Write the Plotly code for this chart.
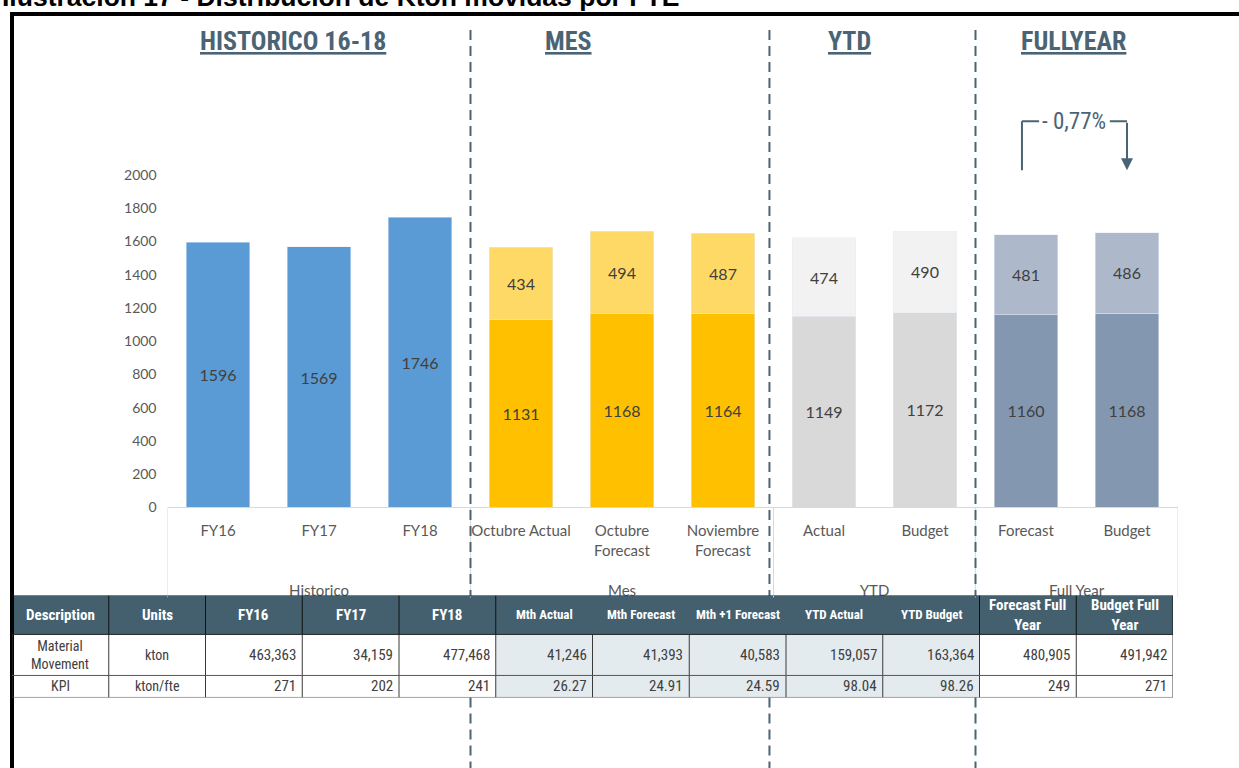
"""Kton movidas por FTE: stacked bars by period group plus the KPI table below."""

import plotly.graph_objects as go

# ---- data -----------------------------------------------------------------
categories = ["FY16", "FY17", "FY18", "Octubre Actual", "Octubre<br>Forecast",
              "Noviembre<br>Forecast", "Actual", "Budget", "Forecast", "Budget"]
base_vals = [1596, 1569, 1746, 1131, 1168, 1164, 1149, 1172, 1160, 1168]
top_vals = [None, None, None, 434, 494, 487, 474, 490, 481, 486]

groups = ["Historico", "Mes", "YTD", "Full Year"]
group_pos = [1, 4, 6.5, 8.5]
group_edges = [-0.5, 2.5, 5.5, 7.5, 9.5]
headers = ["HISTORICO 16-18", "MES", "YTD", "FULLYEAR"]
header_pos = [0.74, 3.47, 6.25, 8.47]
fy_delta = "- 0,77%"

table_cols = ["Description", "Units", "FY16", "FY17", "FY18", "Mth Actual", "Mth Forecast",
              "Mth +1 Forecast", "YTD Actual", "YTD Budget", "Forecast Full<br>Year",
              "Budget Full<br>Year"]
row_desc = ["Material<br>Movement", "KPI"]
row_units = ["kton", "kton/fte"]
material = [463363, 34159, 477468, 41246, 41393, 40583, 159057, 163364, 480905, 491942]
kpi = ["271", "202", "241", "26.27", "24.91", "24.59", "98.04", "98.26", "249", "271"]

# ---- styling --------------------------------------------------------------
W, H = 1239, 768
HE = 759.5          # vertical pixels the page actually maps the figure onto
SLATE = "#4b6475"
HEAD = "#44606f"
base_colors = ["#5b9bd5"] * 3 + ["#ffc000"] * 3 + ["#d9d9d9"] * 2 + ["#8497b0"] * 2
top_colors = ["#5b9bd5"] * 3 + ["#ffd966"] * 3 + ["#f2f2f2"] * 2 + ["#adb9ca"] * 2
BODY = "Lato, Carlito, Calibri, sans-serif"
NARROW = "Liberation Sans Narrow, Arial Narrow, Roboto Condensed, Liberation Sans, Arial"


def fx(x):
    return x / W


def fy(y):
    return 1 - y / HE


XDOM = [fx(167.5), fx(1177.5)]
idx = list(range(len(categories)))

fig = go.Figure()
for vals, colors in ((base_vals, base_colors), (top_vals, top_colors)):
    fig.add_trace(go.Bar(x=idx, y=vals, marker_color=colors, width=0.63,
                         text=vals, textposition="inside", insidetextanchor="middle",
                         textfont=dict(family=BODY, size=16, color="#404040"),
                         hoverinfo="skip", showlegend=False))
# carrier for the group-label axis (nothing visible)
fig.add_trace(go.Scatter(x=group_pos, y=[0] * len(groups), xaxis="x2", mode="markers",
                         marker=dict(opacity=0), hoverinfo="skip", showlegend=False))

# ---- table as a heatmap on its own axes -----------------------------------
row_edges = [0, 39, 80, 102]
body_shade = [0] * 5 + [1] * 5 + [0] * 2
z = [[2] * 12, body_shade, body_shade]
fig.add_trace(go.Heatmap(x=list(range(12)), y=row_edges, z=z, xaxis="x3", yaxis="y3",
                         zmin=0, zmax=2, showscale=False, hoverinfo="skip",
                         colorscale=[[0, "white"], [0.5, "#e4ebef"], [1, HEAD]]))

shapes = []
# outer black frame (left and top)
shapes.append(dict(type="line", xref="paper", yref="paper", x0=fx(12), x1=fx(12),
                   y0=fy(780), y1=fy(12), line=dict(color="black", width=4)))
shapes.append(dict(type="line", xref="paper", yref="paper", x0=fx(10), x1=1,
                   y0=fy(14), y1=fy(14), line=dict(color="black", width=4)))
# category box dividers
for xb in group_edges:
    shapes.append(dict(type="line", xref="x", yref="paper", x0=xb, x1=xb,
                       y0=fy(507), y1=fy(597), line=dict(color="#d9d9d9", width=1)))
# dashed group separators (hidden behind the table)
for xb in [2.5, 5.46, 7.5]:
    for y0, y1 in [(30, 596), (697, 780)]:
        shapes.append(dict(type="line", xref="x", yref="paper", x0=xb, x1=xb,
                           y0=fy(y0), y1=fy(y1),
                           line=dict(color=SLATE, width=2, dash="10px,6px")))
# table grid
for c in range(13):
    xb = c - 0.5
    shapes.append(dict(type="line", xref="x3", yref="y3", x0=xb, x1=xb, y0=39, y1=102,
                       line=dict(color="#3a3a3a", width=1)))
    if c not in (6, 7, 8, 9):
        shapes.append(dict(type="line", xref="x3", yref="y3", x0=xb, x1=xb, y0=0, y1=39,
                           line=dict(color="#111111", width=1)))
for yb in row_edges:
    shapes.append(dict(type="line", xref="x3", yref="y3", x0=-0.5, x1=11.5, y0=yb, y1=yb,
                       line=dict(color="#222222" if yb < 80 else "#555555", width=1)))
# full-year bracket
br_lo, br_hi = 2030, 2325
for x0, x1, y0, y1 in [(7.96, 7.96, br_lo, br_hi), (7.96, 8.13, br_hi, br_hi),
                       (8.83, 9.0, br_hi, br_hi)]:
    shapes.append(dict(type="line", xref="x", yref="y", x0=x0, x1=x1, y0=y0, y1=y1,
                       line=dict(color=SLATE, width=2)))

annotations = [
    dict(x=9.0, y=br_lo, ax=9.0, ay=br_hi, xref="x", yref="y", axref="x", ayref="y",
         showarrow=True, arrowhead=2, arrowsize=1.2, arrowwidth=2, arrowcolor=SLATE, text=""),
    dict(x=8.48, y=br_hi, xref="x", yref="y", xanchor="center", yanchor="middle",
         text=fy_delta, showarrow=False, font=dict(family=NARROW, size=23, color=SLATE)),
    dict(x=fx(0), y=fy(-2.5), xref="paper", yref="paper", xanchor="left", yanchor="middle",
         text="<b>Ilustración 17 - Distribución de Kton movidas por FTE</b>", showarrow=False,
         font=dict(family="Liberation Sans, Arial", size=26.5, color="black")),
]
for h, xp in zip(headers, header_pos):
    annotations.append(dict(x=xp, y=fy(41), xref="x", yref="paper", xanchor="center",
                            yanchor="middle", text=f"<b><u>{h}</u></b>", showarrow=False,
                            font=dict(family=NARROW, size=26, color=SLATE)))

# table texts
head_sizes = [15, 15, 15, 15, 15, 13, 13, 13, 13, 13, 15, 15]
for c, (name, fs) in enumerate(zip(table_cols, head_sizes)):
    annotations.append(dict(x=c, y=19.5, xref="x3", yref="y3", text=f"<b>{name}</b>",
                            showarrow=False, xanchor="center", yanchor="middle",
                            font=dict(family=NARROW, size=fs, color="white")))
row_mid = [59.5, 91]
for r in range(2):
    for c, txt in enumerate([row_desc[r], row_units[r]]):
        annotations.append(dict(x=c, y=row_mid[r], xref="x3", yref="y3", text=txt,
                                showarrow=False, xanchor="center", yanchor="middle",
                                font=dict(family=NARROW, size=14, color="#404040")))
for c, (m, k) in enumerate(zip(material, kpi)):
    for r, txt in enumerate([f"{m:,}", k]):
        annotations.append(dict(x=c + 2 + 0.46, y=row_mid[r], xref="x3", yref="y3", text=txt,
                                showarrow=False, xanchor="right", yanchor="middle",
                                font=dict(family=NARROW, size=15, color="#404040")))

fig.update_layout(
    width=W, height=H, margin=dict(l=0, r=0, t=0, b=0),
    plot_bgcolor="white", paper_bgcolor="white", barmode="stack",
    shapes=shapes, annotations=annotations,
    xaxis=dict(domain=XDOM, range=[-0.5, 9.5], tickvals=idx, ticktext=categories,
               tickangle=0, showgrid=False, zeroline=False, showline=True,
               linecolor="#d9d9d9", linewidth=1, ticks="", ticklabelstandoff=10,
               tickfont=dict(family=BODY, size=15, color="#595959")),
    xaxis2=dict(domain=XDOM, overlaying="x", anchor="y", side="bottom", range=[-0.5, 9.5],
                tickvals=group_pos, ticktext=groups, tickangle=0, showgrid=False,
                zeroline=False, ticks="", ticklabelstandoff=73,
                tickfont=dict(family=BODY, size=15, color="#595959")),
    yaxis=dict(domain=[fy(507), fy(30)], range=[0, 477 / (332 / 2000)],
               tickvals=list(range(0, 2001, 200)), showgrid=False, zeroline=False,
               ticklabelstandoff=10,
               tickfont=dict(family=BODY, size=14, color="#595959")),
    xaxis3=dict(domain=[fx(12), fx(1173)], anchor="y3", range=[-0.5, 11.5], visible=False),
    yaxis3=dict(domain=[fy(697), fy(595)], anchor="x3", range=[102, 0], visible=False),
)

# the reference image starts flush at the page corner
fig.write_html("out.html", config={"displayModeBar": False},
               post_script="document.body.style.margin='0';")
